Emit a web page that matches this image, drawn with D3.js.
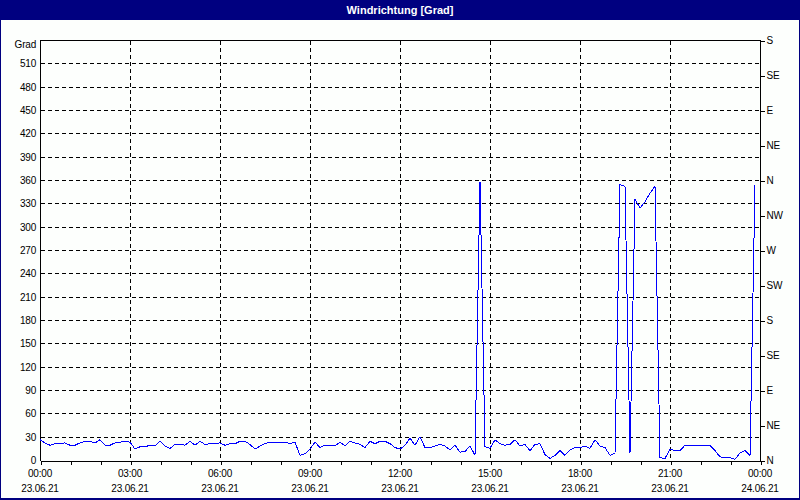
<!DOCTYPE html>
<html>
<head>
<meta charset="utf-8">
<script src="https://cdn.jsdelivr.net/npm/d3@7"></script>
<style>
  html, body { margin: 0; padding: 0; background: #ffffff; }
  svg { display: block; }
  text { font-family: "Liberation Sans", Arial, sans-serif; }
</style>
</head>
<body>
<svg id="chart" width="800" height="500"></svg>
<script>
// ---- data (10-minute readings, 23.06.21 00:00 .. 23:50) ----
const title = "Windrichtung [Grad]";
const unitLabel = "Grad";
const stepMinutes = 10;
const directionAM = [
  26, 22, 19, 21, 21, 22, 19, 19, 22, 24, 24, 22,
  26, 19, 19, 22, 23, 24, 23, 14, 17, 17, 19, 18,
  24, 18, 15, 20, 20, 19, 24, 19, 24, 20, 21, 21,
  22, 19, 21, 21, 24, 24, 20, 14, 18, 21, 23, 23,
  23, 23, 21, 23, 6, 8, 14, 23, 16, 19, 19, 18,
  23, 18, 24, 22, 20, 16, 24, 21, 24, 24, 21, 16
];
const directionPM = [
  14, 19, 28, 19, 30, 16, 16, 18, 20, 18, 13, 19,
  10, 11, 18, 6, 358, 17, 15, 26, 21, 19, 20, 26,
  18, 20, 12, 20, 21, 7, 2, 6, 12, 6, 13, 16,
  16, 18, 15, 26, 18, 16, 6, 9, 354, 352, 9, 335,
  324, 332, 343, 352, 3, 2, 14, 12, 12, 19, 19, 19,
  19, 19, 19, 12, 4, 3, 3, 1, 9, 12, 6, 353
];
const direction = directionAM.concat(directionPM);

const leftTicks = [0, 30, 60, 90, 120, 150, 180, 210, 240, 270, 300, 330, 360, 390, 420, 450, 480, 510];
const compassTicks = [0, 45, 90, 135, 180, 225, 270, 315, 360, 405, 450, 495, 540];
const compassLabels = ["N", "NE", "E", "SE", "S", "SW", "W", "NW", "N", "NE", "E", "SE", "S"];
const hourTicks = d3.range(0, 25).map(h => h * 60);
const labelTicks = [0, 180, 360, 540, 720, 900, 1080, 1260, 1440];
const timeLabels = ["00:00", "03:00", "06:00", "09:00", "12:00", "15:00", "18:00", "21:00", "00:00"];
const dateLabels = ["23.06.21", "23.06.21", "23.06.21", "23.06.21", "23.06.21", "23.06.21", "23.06.21", "23.06.21", "24.06.21"];

// ---- layout ----
const W = 800, H = 500;
const L = 40, R = 760, T = 40, B = 460;
const navy = "#000080";

const svg = d3.select("#chart");
const x = d3.scaleLinear().domain([0, 1440]).range([L, R]);
const y = d3.scaleLinear().domain([0, 540]).range([B, T]);

svg.append("rect").attr("x", 0).attr("y", 0).attr("width", W).attr("height", H).attr("fill", "#fdfffd");

// title bar
svg.append("rect").attr("x", 0).attr("y", 0).attr("width", W).attr("height", 20).attr("fill", navy);
svg.append("text").attr("x", 400).attr("y", 14).attr("text-anchor", "middle")
  .attr("fill", "#ffffff").attr("font-size", "11px").attr("font-weight", "bold")
  .text(title);

// outer frame
svg.append("rect").attr("x", 0.5).attr("y", 0.5).attr("width", W - 1).attr("height", H - 1)
  .attr("fill", "none").attr("stroke", navy).attr("stroke-width", 1).attr("shape-rendering", "crispEdges");
svg.append("line").attr("x1", 0).attr("x2", W).attr("y1", H - 1.5).attr("y2", H - 1.5)
  .attr("stroke", navy).attr("stroke-width", 1).attr("shape-rendering", "crispEdges");

const g = svg.append("g").attr("shape-rendering", "crispEdges");

// horizontal grid
g.selectAll(".hgrid").data(leftTicks.filter(d => d > 0)).enter().append("line")
  .attr("x1", L + 1).attr("x2", R)
  .attr("y1", d => Math.round(y(d)) + 0.5).attr("y2", d => Math.round(y(d)) + 0.5)
  .attr("stroke", "#000").attr("stroke-dasharray", "4,3");

// vertical grid
g.selectAll(".vgrid").data(labelTicks.filter(d => d > 0 && d < 1440)).enter().append("line")
  .attr("x1", d => Math.round(x(d)) + 0.5).attr("x2", d => Math.round(x(d)) + 0.5)
  .attr("y1", T + 1).attr("y2", B)
  .attr("stroke", "#000").attr("stroke-dasharray", "4,3");

// frame of plot: top, left, right, bottom
g.append("line").attr("x1", L).attr("x2", R + 1).attr("y1", T + 0.5).attr("y2", T + 0.5).attr("stroke", "#000");
g.append("line").attr("x1", L + 0.5).attr("x2", L + 0.5).attr("y1", T).attr("y2", B + 1).attr("stroke", "#000");
g.append("line").attr("x1", R + 0.5).attr("x2", R + 0.5).attr("y1", T).attr("y2", B + 1).attr("stroke", "#000");

// bottom axis (hour ticks)
const xAxis = d3.axisBottom(x).tickValues(hourTicks).tickSize(4).tickFormat("").tickSizeOuter(0);
const gx = svg.append("g").attr("transform", `translate(0.5,${B + 0.5})`).attr("shape-rendering", "crispEdges").call(xAxis);
gx.select(".domain").attr("stroke", "#000");
gx.selectAll(".tick line").attr("stroke", "#000");

// right axis (compass)
const yRight = d3.axisRight(y).tickValues(compassTicks).tickSize(4).tickPadding(2)
  .tickFormat((d, i) => compassLabels[i]).tickSizeOuter(0);
const gr = svg.append("g").attr("transform", `translate(${R + 0.5},0.5)`).attr("shape-rendering", "crispEdges").call(yRight);
gr.select(".domain").remove();
gr.selectAll(".tick line").attr("stroke", "#000");
gr.selectAll(".tick text").attr("font-size", "10px").attr("fill", "#000")
  .attr("font-family", "Liberation Sans, Arial, sans-serif").attr("letter-spacing", "-0.2px");

// left labels
svg.selectAll(".ylab").data(leftTicks).enter().append("text")
  .attr("x", 36).attr("y", d => y(d) + 4).attr("text-anchor", "end")
  .attr("font-size", "10px").attr("letter-spacing", "-0.2px").attr("fill", "#000")
  .text(d => d);
svg.append("text").attr("x", 36).attr("y", 48).attr("text-anchor", "end")
  .attr("font-size", "10px").attr("letter-spacing", "-0.2px").attr("fill", "#000").text(unitLabel);

// bottom labels
svg.selectAll(".tlab").data(labelTicks).enter().append("text")
  .attr("x", d => x(d)).attr("y", 477).attr("text-anchor", "middle")
  .attr("font-size", "10px").attr("letter-spacing", "-0.2px").attr("fill", "#000")
  .text((d, i) => timeLabels[i]);
svg.selectAll(".dlab").data(labelTicks).enter().append("text")
  .attr("x", d => x(d)).attr("y", 492).attr("text-anchor", "middle")
  .attr("font-size", "10px").attr("letter-spacing", "-0.2px").attr("fill", "#000")
  .text((d, i) => dateLabels[i]);

// data line
const line = d3.line().x((d, i) => x(i * stepMinutes)).y(d => y(d));
svg.append("path").datum(direction).attr("d", line)
  .attr("fill", "none").attr("stroke", "#0000ff").attr("stroke-width", 1)
  .attr("shape-rendering", "crispEdges");
</script>
</body>
</html>
